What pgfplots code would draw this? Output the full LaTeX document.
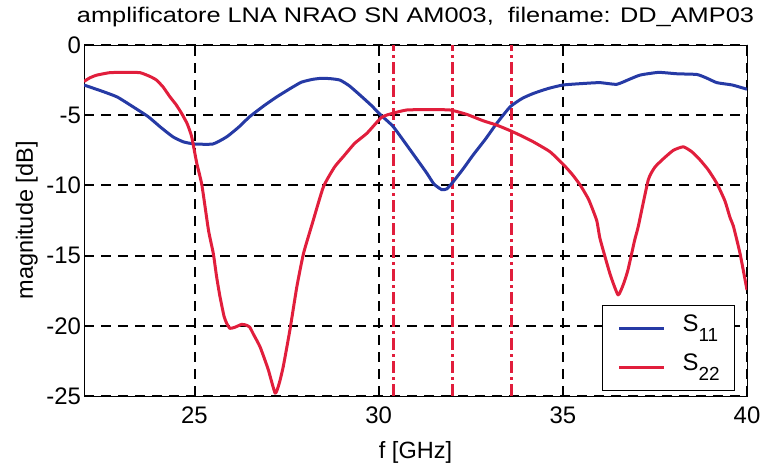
\documentclass[border=0pt]{standalone}
\usepackage{fontspec}
\setmainfont{Liberation Sans}
\usepackage{graphicx}
\usepackage{pgfplots}
\pgfplotsset{compat=1.18}

\definecolor{sblue}{RGB}{38,58,165}
\definecolor{sred}{RGB}{225,30,60}

\newcommand{\sub}[1]{\raisebox{-5bp}{\fontsize{9.5}{10}\selectfont #1}}

\begin{document}
\begin{tikzpicture}
\begin{axis}[
  name=ax,
  scale only axis,
  width=331.5bp, height=175.5bp,
  xmin=22, xmax=40, ymin=-25, ymax=0,
  xtick={25,30,35,40},
  xticklabels={25,30,35,40},
  ytick={-25,-20,-15,-10,-5,0},
  yticklabels={-25,-20,-15,-10,-5,0},
  grid=major,
  major grid style={black, line width=1bp, dash pattern=on 5bp off 3.5bp},
  axis line style={black, line width=0.5bp},
  tick align=inside,
  major tick length=0pt,
  tick label style={font=\fontsize{12}{14}\selectfont},
  xticklabel style={yshift=-2bp},
  yticklabel style={xshift=2bp},
  title={\scalebox{1.2}[1]{amplificatore LNA NRAO SN AM003,\ \ filename: DD\_AMP03}},
  title style={font=\fontsize{10.6}{12}\selectfont, yshift=-0.5bp},
  xlabel={f [GHz]},
  ylabel={magnitude [dB]},
  label style={font=\fontsize{11.8}{14}\selectfont},
  xlabel style={yshift=-2bp},
  ylabel style={yshift=-2.5bp},
  legend style={at={(1,0)}, anchor=south east, xshift=-6bp, yshift=2.5bp,
    draw=black, line width=0.4bp, font=\fontsize{12}{14}\selectfont,
    nodes={inner sep=0pt, text height=9bp, text depth=6bp},
    row sep=4.5bp, column sep=8.5bp, inner xsep=7.5bp, inner ysep=4bp},
  legend cell align=left,
  legend image code/.code={\draw[#1, line width=1.6bp] (0bp,0bp) -- (22.5bp,0bp);},
  clip=true,
]
% band markers: 30.4, 32.0 and 33.6 GHz
\addplot[sred, line width=1.3bp, dash pattern=on 6bp off 2bp on 1.5bp off 2bp, forget plot]
  coordinates {(30.4,-25) (30.4,0)};
\addplot[sred, line width=1.3bp, dash pattern=on 6bp off 2bp on 1.5bp off 2bp, forget plot]
  coordinates {(32.0,-25) (32.0,0)};
\addplot[sred, line width=1.3bp, dash pattern=on 6bp off 2bp on 1.5bp off 2bp, forget plot]
  coordinates {(33.6,-25) (33.6,0)};

% S11
\addplot[sblue, line width=1.5bp, line join=round, smooth, tension=0.3] coordinates {
(22.0,-2.85) (22.5,-3.3) (22.9,-3.7) (23.3,-4.35) (23.74,-5.1) (24.1,-5.9)
(24.42,-6.55) (24.7,-6.9) (25.0,-7.05) (25.5,-7.05) (25.87,-6.55) (26.2,-5.85)
(26.5,-5.1) (26.9,-4.3) (27.23,-3.7) (27.6,-3.1) (27.9,-2.65) (28.2,-2.45)
(28.45,-2.37) (28.7,-2.4) (28.95,-2.5) (29.2,-2.9) (29.49,-3.56) (29.8,-4.3)
(30.04,-4.95) (30.39,-5.8) (30.85,-7.45) (31.3,-9.1) (31.5,-9.9) (31.71,-10.3)
(31.85,-10.25) (32.02,-9.75) (32.3,-8.8) (32.56,-7.85) (32.9,-6.7) (33.2,-5.6)
(33.57,-4.4) (33.9,-3.8) (34.2,-3.45) (34.6,-3.1) (35.0,-2.85) (35.5,-2.75)
(36.0,-2.68) (36.46,-2.8) (36.8,-2.45) (37.1,-2.14) (37.6,-1.95) (38.1,-2.05)
(38.64,-2.1) (38.9,-2.35) (39.18,-2.68) (39.6,-2.85) (40.0,-3.15)
};
\addlegendentry{S\sub{11}}

% S22
\addplot[sred, line width=1.5bp, line join=round, smooth, tension=0.3] coordinates {
(22.0,-2.6) (22.15,-2.35) (22.34,-2.15) (22.7,-1.97) (23.1,-1.95) (23.52,-1.97)
(23.8,-2.25) (23.97,-2.5) (24.15,-3.0) (24.33,-3.68) (24.5,-4.25) (24.65,-4.87)
(24.8,-5.6) (24.92,-6.5) (25.06,-8.4) (25.2,-9.97) (25.38,-13.2) (25.51,-14.84)
(25.6,-16.5) (25.69,-17.9) (25.8,-19.3) (25.87,-19.8) (25.96,-20.18) (26.1,-20.1)
(26.28,-19.9) (26.4,-19.95) (26.5,-20.1) (26.6,-20.6) (26.78,-21.5) (27.0,-23.1)
(27.19,-24.8) (27.3,-24.1) (27.41,-22.9) (27.59,-20.3) (27.78,-17.2) (27.96,-14.84)
(28.2,-12.7) (28.5,-10.1) (28.8,-8.7) (29.04,-7.95) (29.35,-7.0)
(29.68,-6.29) (30.08,-5.15) (30.4,-4.85) (30.76,-4.63) (31.3,-4.6) (31.94,-4.63)
(32.4,-4.95) (32.84,-5.4) (33.2,-5.7) (33.57,-6.1) (33.9,-6.5) (34.2,-6.9)
(34.65,-7.6) (35.01,-8.5) (35.25,-9.2) (35.47,-9.97) (35.7,-11.0) (35.92,-12.5)
(36.01,-13.8) (36.28,-16.3) (36.5,-17.8) (36.65,-17.0) (36.77,-16.0) (36.95,-13.9)
(37.05,-12.9) (37.32,-9.6) (37.5,-8.7) (37.73,-8.1) (38.0,-7.5) (38.27,-7.25)
(38.5,-7.6) (38.73,-8.2) (38.95,-8.9) (39.18,-9.85) (39.4,-11.1) (39.54,-12.3)
(39.63,-12.9) (39.81,-14.84) (40.0,-17.45)
};
\addlegendentry{S\sub{22}}
\end{axis}
\pgfresetboundingbox
\path ([xshift=-42bp,yshift=-34.5bp]ax.south west) rectangle ([xshift=8bp,yshift=22.5bp]ax.north east);
\end{tikzpicture}
\end{document}
